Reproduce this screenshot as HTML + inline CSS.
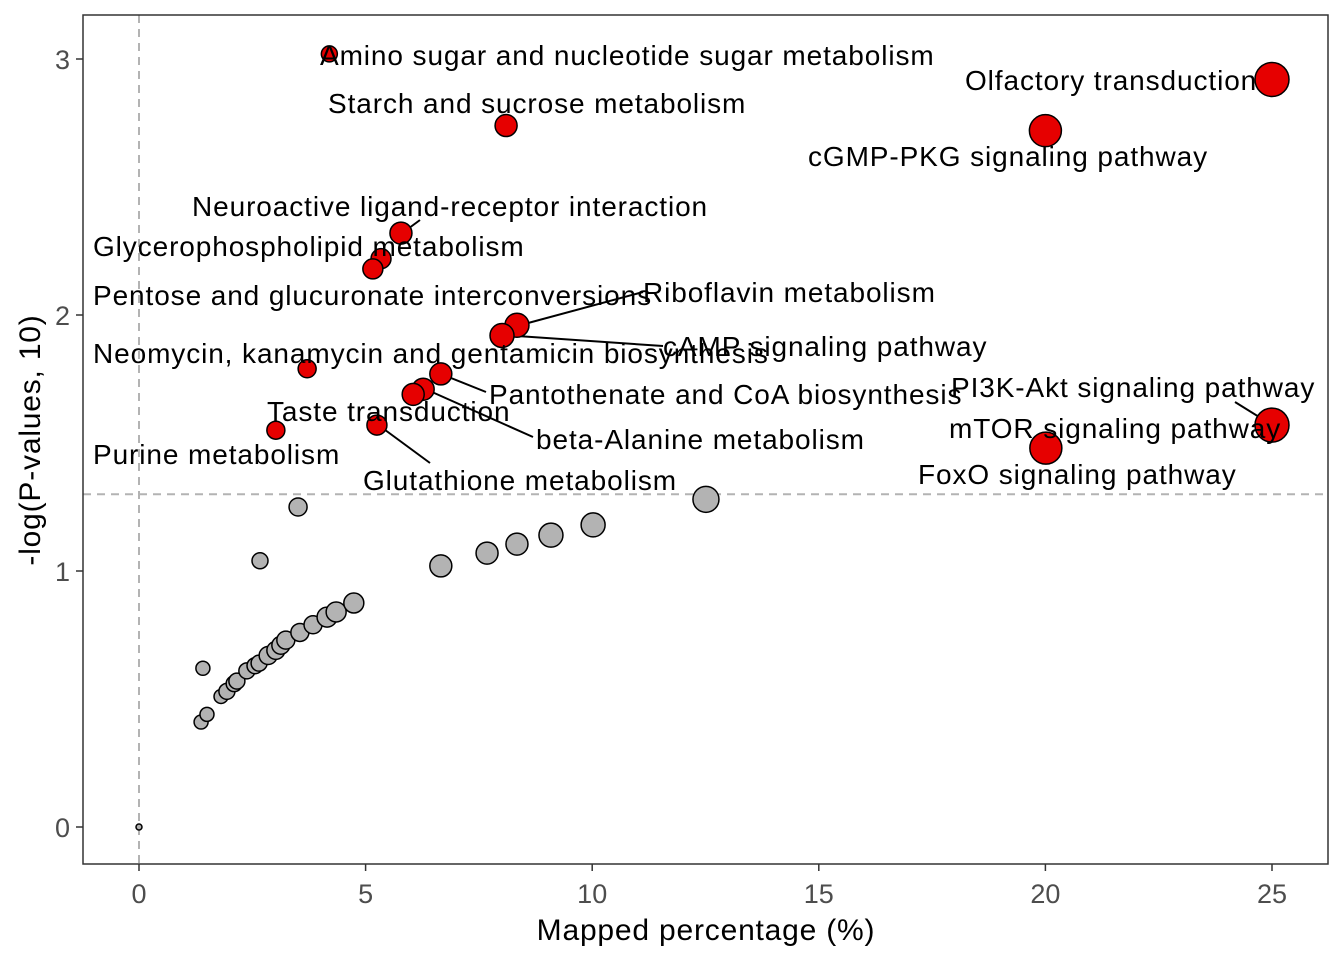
<!DOCTYPE html>
<html><head><meta charset="utf-8"><style>
body{margin:0;background:#fff}
svg text{font-family:"Liberation Sans",Arial,sans-serif}
</style></head><body>
<svg id="chart" width="1344" height="960" xmlns="http://www.w3.org/2000/svg">
<rect width="1344" height="960" fill="#fff"/>
<g id="grid"></g><g id="segs"></g><g id="pts"></g><g id="labels"></g><g id="axes"></g>
</svg>
<script>
const redX=[4.2,8.1,25,20,5.78,5.34,5.16,8.34,8.01,3.71,6.66,6.27,6.05,3.02,5.25,25,20.01];
const redY=[3.02,2.74,2.92,2.72,2.32,2.22,2.18,1.96,1.92,1.79,1.77,1.71,1.69,1.55,1.57,1.57,1.48];
const redR=[8,11,17,16,11,10,10,12,12,9,11,11,11,9,10,17,16];
const grayX=[0,1.41,1.37,1.5,1.81,1.94,2.1,2.16,2.38,2.56,2.65,2.85,3.02,3.13,3.24,3.55,3.84,4.15,4.35,4.74,2.67,3.51,6.66,7.68,8.34,9.09,10.02,12.51];
const grayY=[0,0.62,0.41,0.44,0.51,0.53,0.56,0.57,0.61,0.63,0.64,0.67,0.69,0.71,0.73,0.76,0.79,0.82,0.84,0.875,1.04,1.25,1.02,1.07,1.105,1.14,1.18,1.28];
const grayR=[3,7,7,7,7,8,8,8,8,8,8,9,9,9,9,9,9,10,10,10,8,9,11,11,11,12,12,13];
const xTicks=[0,5,10,15,20,25];
const yTicks=[0,1,2,3];
const labelText=["Amino sugar and nucleotide sugar metabolism","Starch and sucrose metabolism","Olfactory transduction","cGMP-PKG signaling pathway","Neuroactive ligand-receptor interaction","Glycerophospholipid metabolism","Pentose and glucuronate interconversions","Riboflavin metabolism","Neomycin, kanamycin and gentamicin biosynthesis","cAMP signaling pathway","Pantothenate and CoA biosynthesis","PI3K-Akt signaling pathway","Taste transduction","mTOR signaling pathway","beta-Alanine metabolism","Purine metabolism","Glutathione metabolism","FoxO signaling pathway"];
const labelPos=[[320,55],[328,103],[965,80],[808,156],[192,206],[93,246],[93,295],[643,292],[93,353],[663,346],[489,394],[951,387],[267,411],[949,428],[536,439],[93,454],[363,480],[918,474]];
const segs=[[401,234,420,220],[517,326,643,292],[502,335,663,346],[441,374,486,392],[423,388,533,437],[377,424,430,463],[1272,425,1235,402]];
const NS="http://www.w3.org/2000/svg";
const X=v=>139+v*45.32, Y=v=>827-v*256;
function mk(p,t,a){const e=document.createElementNS(NS,t);for(const k in a)e.setAttribute(k,a[k]);document.getElementById(p).appendChild(e);return e;}
let e;
e=mk('grid','line',{x1:X(0),x2:X(0),y1:15,y2:864,stroke:'#b3b3b3','stroke-width':2,'stroke-dasharray':'8,6'});


e=mk('grid','line',{x1:83,x2:1328,y1:Y(1.3),y2:Y(1.3),stroke:'#b3b3b3','stroke-width':2,'stroke-dasharray':'8,6'});


segs.forEach(s=>{e=mk('segs','line',{x1:s[0],y1:s[1],x2:s[2],y2:s[3],stroke:'#000','stroke-width':2});

});
grayX.forEach((x,i)=>{e=mk('pts','circle',{cx:X(x),cy:Y(grayY[i]),r:grayR[i],fill:'#b3b3b3',stroke:'#000','stroke-width':1.5});

});
redX.forEach((x,i)=>{e=mk('pts','circle',{cx:X(x),cy:Y(redY[i]),r:redR[i],fill:'#e60000',stroke:'#000','stroke-width':1.5});

});
labelText.forEach((t,i)=>{e=mk('labels','text',{x:labelPos[i][0],y:labelPos[i][1]+10,'font-size':28,'letter-spacing':0.9,fill:'#000'});e.textContent=t;

});
e=mk('axes','rect',{x:83,y:15,width:1245,height:849,fill:'none',stroke:'#333','stroke-width':1.5});


xTicks.forEach(v=>{mk('axes','line',{x1:X(v),x2:X(v),y1:864,y2:871,stroke:'#333','stroke-width':1.5});
e=mk('axes','text',{x:X(v),y:903,'font-size':27,fill:'#4d4d4d','text-anchor':'middle'});e.textContent=v;

});
yTicks.forEach(v=>{mk('axes','line',{x1:76,x2:83,y1:Y(v),y2:Y(v),stroke:'#333','stroke-width':1.5});
e=mk('axes','text',{x:70,y:Y(v)+10,'font-size':27,fill:'#4d4d4d','text-anchor':'end'});e.textContent=v;

});
e=mk('axes','text',{x:706,y:940,'font-size':30,'letter-spacing':0.8,fill:'#000','text-anchor':'middle'});e.textContent='Mapped percentage (%)';


e=mk('axes','text',{x:0,y:0,'font-size':30,'letter-spacing':0.8,fill:'#000','text-anchor':'middle',transform:'translate(40,440) rotate(-90)'});e.textContent='-log(P-values, 10)';


</script>
</body></html>
